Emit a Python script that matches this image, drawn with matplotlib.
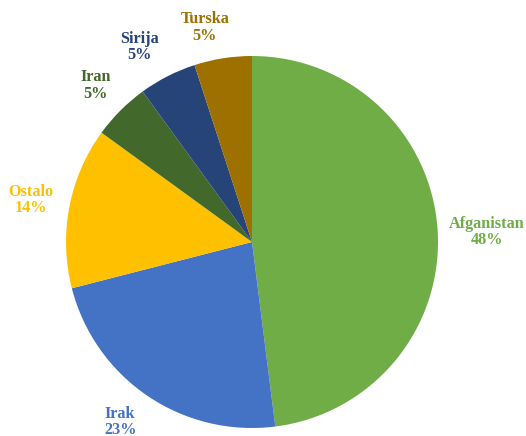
import matplotlib
matplotlib.use("Agg")
import matplotlib.pyplot as plt
import numpy as np

categories = ["Afganistan", "Irak", "Ostalo", "Iran", "Sirija", "Turska"]
values = [48, 23, 14, 5, 5, 5]
colors = ["#70AD47", "#4472C4", "#FFC000", "#43682B", "#264478", "#9E7000"]

# label placement (layout only)
label_dist = [1.265, 1.2, 1.21, 1.19, 1.21, 1.18]
label_dang = [-1.2, -2.0, 0.0, 0.0, 3.0, 3.4]

fig = plt.figure(figsize=(5.26, 4.36), dpi=100)
W, H = 526, 436
cx, cy, r = 252, 242, 186
ax = fig.add_axes([(cx - r) / W, (H - cy - r) / H, 2 * r / W, 2 * r / H])

wedges, _ = ax.pie(values, colors=colors, startangle=90, counterclock=False,
                   radius=1, wedgeprops=dict(linewidth=0))
for w, c, v, col, d, da in zip(wedges, categories, values, colors, label_dist, label_dang):
    ang = np.deg2rad((w.theta1 + w.theta2) / 2 + da)
    ax.text(d * np.cos(ang), d * np.sin(ang), f"{c}\n{v}%", color=col,
            ha="center", va="center", family="Liberation Serif",
            fontweight="bold", fontsize=11.7, linespacing=1.05, clip_on=False)
ax.set_xlim(-1, 1)
ax.set_ylim(-1, 1)
ax.set_aspect("equal")
fig.savefig("out.png", dpi=100)
